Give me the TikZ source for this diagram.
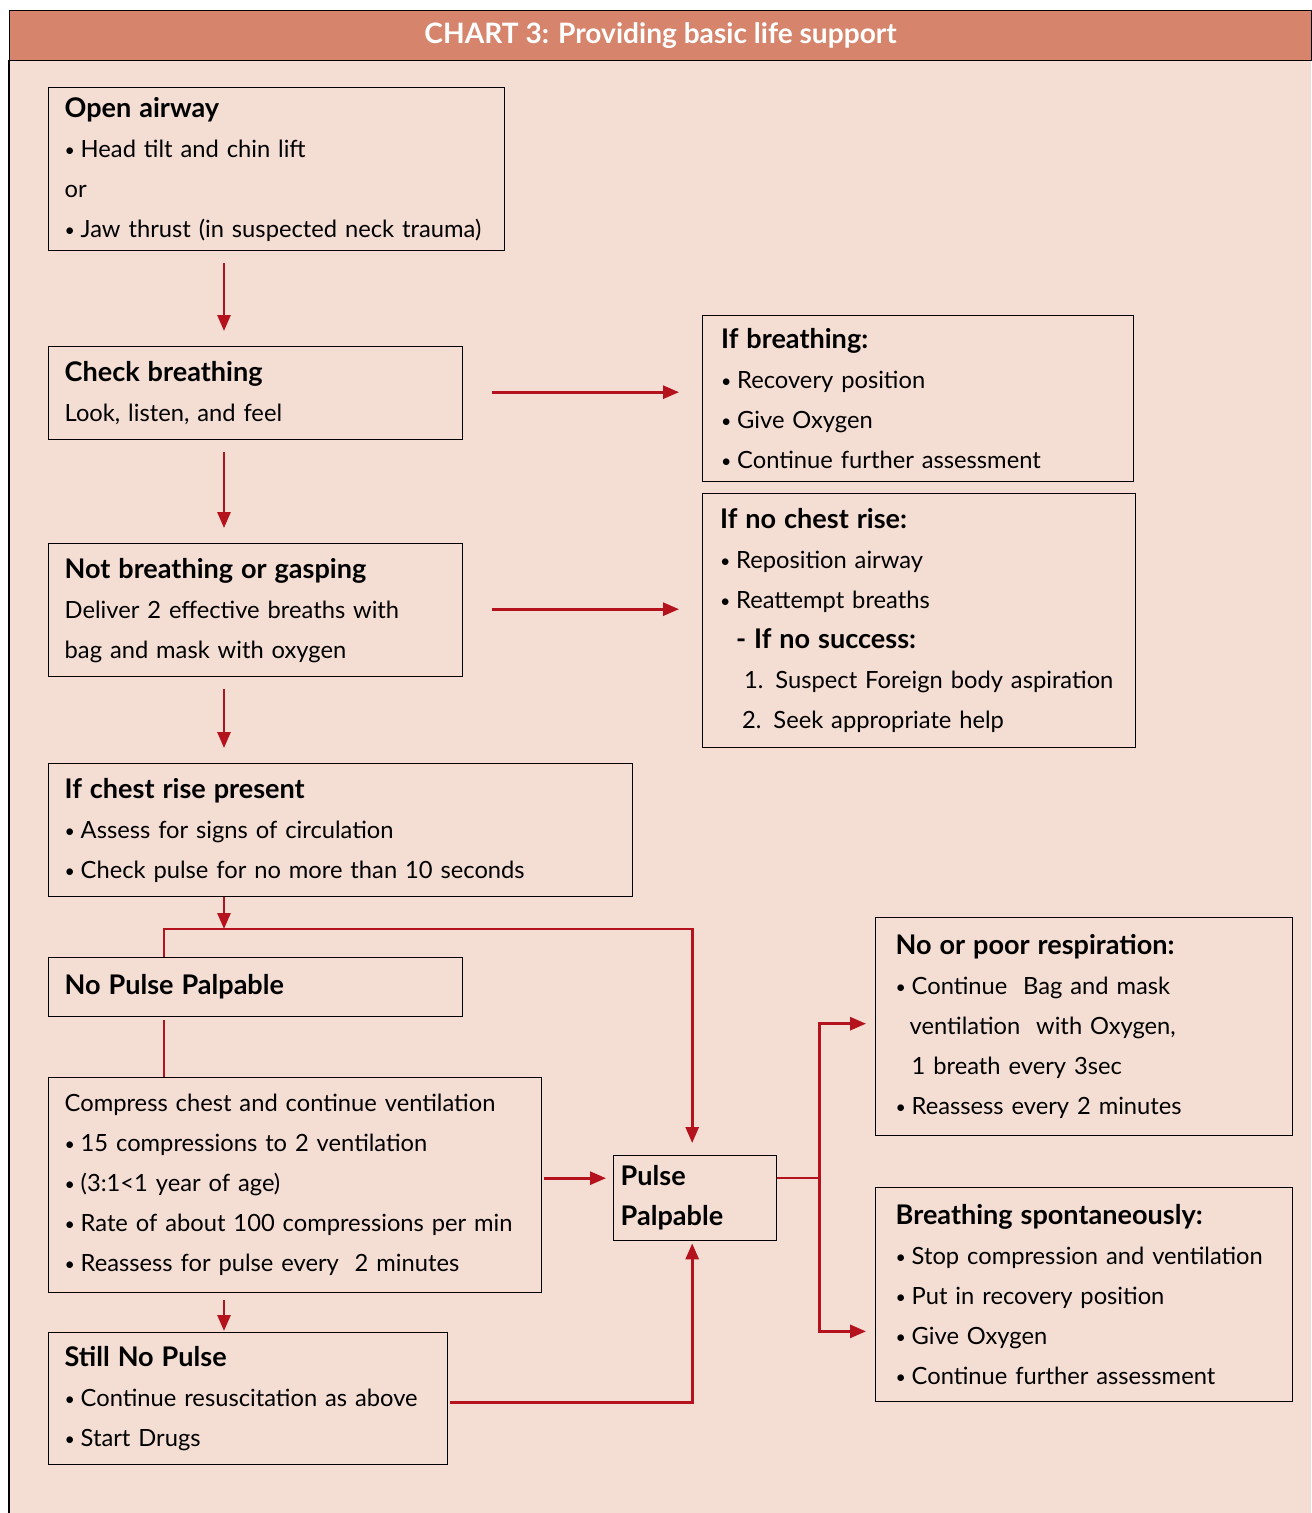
\documentclass[tikz,border=0pt]{standalone}
\usepackage{fontspec}
\setmainfont{Lato}
\usepackage{graphicx}
\usepackage{tikz}
\usetikzlibrary{arrows.meta}
\usetikzlibrary{calc,positioning}
\definecolor{chartred}{RGB}{180,18,28}
\definecolor{headfill}{RGB}{214,132,108}
\definecolor{panelfill}{RGB}{244,221,211}
\newcommand{\bul}{\makebox[0.32cm][l]{\raisebox{0.08ex}{\scalebox{0.75}{\textbullet}}}}
\newcommand{\hd}[1]{{\fontsize{15.4}{22.76}\selectfont\bfseries #1}}

\begin{document}
\begin{tikzpicture}[x=0.02cm,y=-0.02cm]
  \tikzset{box/.style = {draw, line width=0.8pt, anchor=north west, align=left, inner xsep=0.32cm, inner ysep=0pt, font=\fontsize{13.5}{22.76}\selectfont}}
  \tikzset{rbox/.style = {box, inner xsep=0.37cm}}
  \tikzset{header/.style = {draw, fill=headfill, line width=0.8pt, anchor=north west, minimum width=26.04cm, minimum height=1cm, text=white, font=\bfseries\fontsize{16}{18}\selectfont}}
  \tikzset{link/.style = {draw=chartred, line width=1.6pt}}
  \tikzset{edge/.style = {link, -tipA}}
  \tikzset{%
  tipA/.tip={Triangle[length=0.32cm,width=0.26cm]},
}
  \useasboundingbox (0,0) rectangle (1311,1513);

  % background
  \fill[panelfill] (9,60) rectangle (1311,1513);
  \draw[line width=0.8pt] (9,60) -- (9,1513);
  \node[header] (title) at (9,10) {CHART 3: Providing basic life support};

  % left column
  \node[box, text width=8.48cm, minimum height=3.26cm] (airway) at (48,87)
    {\hd{Open airway}\\ \bul Head tilt and chin lift\\ or\\ \bul Jaw thrust (in suspected neck trauma)};
  \node[box, text width=7.64cm, minimum height=1.86cm] (check) at (48,346)
    {\hd{Check breathing}\\ Look, listen, and feel};
  \node[box, text width=7.64cm, minimum height=2.66cm] (gasp) at (48,543)
    {\hd{Not breathing or gasping}\\ Deliver 2 effective breaths with\\ bag and mask with oxygen};
  \node[box, text width=11.04cm, minimum height=2.66cm] (rise) at (48,763)
    {\hd{If chest rise present}\\ \bul Assess for signs of circulation\\ \bul Check pulse for no more than 10 seconds};
  \node[box, text width=7.64cm, minimum height=1.18cm] (nopulse) at (48,957)
    {\hd{No Pulse Palpable}};
  \node[box, text width=9.22cm, minimum height=4.3cm] (compress) at (48,1077)
    {Compress chest and continue ventilation\\ \bul 15 compressions to 2 ventilation\\ \bul (3:1<1 year of age)\\ \bul Rate of about 100 compressions per min\\ \bul Reassess for pulse every\ \ 2 minutes};
  \node[box, text width=7.34cm, minimum height=2.64cm] (still) at (48,1332)
    {\hd{Still No Pulse}\\ \bul Continue resuscitation as above\\ \bul Start Drugs};

  % right side
  \node[rbox, text width=7.88cm, minimum height=3.32cm] (breathing) at (702,315)
    {\hd{If breathing:}\\ \bul Recovery position\\ \bul Give Oxygen\\ \bul Continue further assessment};
  \node[rbox, inner xsep=0.35cm, text width=7.96cm, minimum height=5.08cm] (nochest) at (702,493)
    {\hd{If no chest rise:}\\ \bul Reposition airway\\ \bul Reattempt breaths\\
     \hspace*{0.32cm}\hd{- If no success:}\\ \hspace*{0.48cm}1. Suspect Foreign body aspiration\\ \hspace*{0.44cm}2. Seek appropriate help};
  \node[box, inner xsep=0.14cm, text width=2.98cm, minimum height=1.7cm] (pulse) at (613,1155)
    {\hd{Pulse}\\ \hd{Palpable}};
  \node[rbox, inner xsep=0.4cm, text width=7.54cm, minimum height=4.36cm] (poor) at (875,917)
    {\hd{No or poor respiration:}\\ \bul Continue\ \ Bag and mask\\ \hspace*{0.28cm}ventilation\ \ with Oxygen,\\ \hspace*{0.32cm}1 breath every 3sec\\ \bul Reassess every 2 minutes};
  \node[rbox, inner xsep=0.4cm, text width=7.54cm, minimum height=4.28cm] (spont) at (875,1187)
    {\hd{Breathing spontaneously:}\\ \bul Stop compression and ventilation\\ \bul Put in recovery position\\ \bul Give Oxygen\\ \bul Continue further assessment};

  % connectors
  \foreach \from/\to in {airway/check,check/gasp,gasp/rise}
    \draw[edge] ($(\from.south west)+(176,12)$) -- ($(\to.north west)+(176,-15)$);

  \foreach \from/\to in {check/breathing,gasp/nochest}
    \draw[edge] ($(\from.east)+(29,-1)$) -- ($(\from.east -| \to.west)+(-23,-1)$);

  \draw[edge] ($(rise.south west)+(176,0)$) -- ($(nopulse.north west)+(176,-28)$);
  \draw[edge] ($(nopulse.north west)+(116,0)$) -- ++(0,-28) -| ($(pulse.north)+(-3,-12)$);
  \draw[link] ($(nopulse.south west)+(116,3)$) -- ($(compress.north west)+(116,0)$);
  \draw[edge] ($(compress.east)+(2,-7)$) -- ($(compress.east -| pulse.west)+(-7,-7)$);
  \draw[edge] ($(compress.south west)+(176,7)$) -- ($(still.north west)+(176,-1)$);
  \draw[edge] ($(still.east)+(2,4)$) -| ($(pulse.south)+(-3,2)$);

  \draw[link] ($(pulse.north east)+(0,23)$) -- ++(42,0) coordinate (split);
  \draw[edge] (split) |- ($(poor.west)+(-9,-3)$);
  \draw[edge] (split) |- ($(spont.south west)+(-9,-71)$);

\end{tikzpicture}
\end{document}
